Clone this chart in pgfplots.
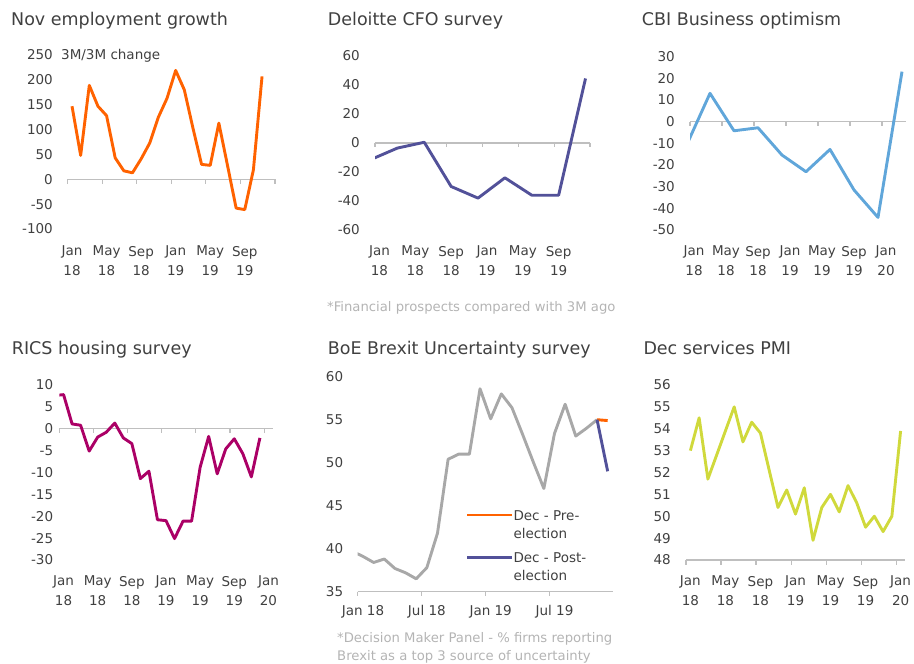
\documentclass[border=0pt]{standalone}
\usepackage{fontspec}
\setmainfont{DejaVu Sans}
\usepackage{pgfplots}
\pgfplotsset{compat=1.18}
\definecolor{txt}{HTML}{404040}
\definecolor{note}{HTML}{B4B4B4}
\definecolor{axgray}{HTML}{BFBFBF}
\definecolor{ingorange}{HTML}{FF6200}
\definecolor{ingpurple}{HTML}{525199}
\definecolor{ingblue}{HTML}{60A6DA}
\definecolor{ingmagenta}{HTML}{AB0066}
\definecolor{inggray}{HTML}{A8A8A8}
\definecolor{inglime}{HTML}{D0D93C}
\newcommand\titlefont{\fontsize{17.5}{21}\selectfont}
\newcommand\tickfont{\fontsize{13.5}{19.5}\selectfont}
\newcommand\notefont{\fontsize{13.2}{18.5}\selectfont}
\tikzset{axl/.style={axgray, line width=1.2pt}}
\pgfplotsset{
  panel/.style={scale only axis, anchor=south west, axis lines=left,
    axis line style={draw=none}, major tick length=0pt, tick style={draw=none},
    clip mode=individual,
    tick label style={font=\tickfont, text=txt},
    yticklabel style={anchor=east, inner sep=0pt},
    xticklabel style={anchor=north, inner sep=0pt, align=center}},
  dataline/.style={line width=2.9pt, line join=round, no markers}
}
\begin{document}
\begin{tikzpicture}
\useasboundingbox (0,0) rectangle (914pt,-664pt);

% ---------------- Panel 1: employment
\begin{axis}[panel, at={(67.7pt,-229pt)}, width=207.3pt, height=174pt,
  xmin=-0.5, xmax=23.5, ymin=-100, ymax=250,
  ytick={-100,-50,0,50,100,150,200,250},
  yticklabels={-100,-50,0,50,100,150,200,250},
  yticklabel style={xshift=-14.7pt},
  xtick={0,4,8,12,16,20},
  xticklabels={{Jan\\18},{May\\18},{Sep\\18},{Jan\\19},{May\\19},{Sep\\19}},
  xticklabel style={yshift=-16.8pt}]
\draw[axl] (axis cs:-0.5,0) -- (axis cs:23.5,0);
\pgfplotsinvokeforeach{-0.5,3.5,7.5,11.5,15.5,19.5,23.5}{\draw[axl] (axis cs:#1,0) -- ++(0pt,-4.5pt);}
\addplot[dataline, ingorange] coordinates {
(0,147) (1,48) (2,189) (3,147) (4,128) (5,43) (6,17) (7,13) (8,41) (9,73)
(10,125) (11,163) (12,219) (13,180) (14,103) (15,30) (16,28) (17,113) (18,28)
(19,-58) (20,-61) (21,19) (22,207)};
\end{axis}

% ---------------- Panel 2: Deloitte
\begin{axis}[panel, at={(375pt,-230pt)}, width=215pt, height=174pt,
  xmin=-0.5, xmax=23.5, ymin=-60, ymax=60,
  ytick={-60,-40,-20,0,20,40,60},
  yticklabels={-60,-40,-20,0,20,40,60},
  yticklabel style={xshift=-15pt},
  xtick={0,4,8,12,16,20},
  xticklabels={{Jan\\18},{May\\18},{Sep\\18},{Jan\\19},{May\\19},{Sep\\19}},
  xticklabel style={yshift=-15.8pt}]
\draw[axl] (axis cs:-0.5,0) -- (axis cs:23.5,0);
\pgfplotsinvokeforeach{-0.5,3.5,7.5,11.5,15.5,19.5,23.5}{\draw[axl] (axis cs:#1,0) -- ++(0pt,-4.5pt);}
\addplot[dataline, ingpurple] coordinates {
(-1,-11.5) (2,-3.5) (5,0.5) (8,-30) (11,-38) (14,-24) (17,-36) (20,-36) (23,44.5)};
\end{axis}

% ---------------- Panel 3: CBI
\begin{axis}[panel, at={(690pt,-230pt)}, width=216pt, height=173.3pt,
  xmin=-0.5, xmax=26.5, ymin=-50, ymax=30,
  ytick={-50,-40,-30,-20,-10,0,10,20,30},
  yticklabels={-50,-40,-30,-20,-10,0,10,20,30},
  yticklabel style={xshift=-15pt},
  xtick={0,4,8,12,16,20,24},
  xticklabels={{Jan\\18},{May\\18},{Sep\\18},{Jan\\19},{May\\19},{Sep\\19},{Jan\\20}},
  xticklabel style={yshift=-15.8pt}]
\draw[axl] (axis cs:-0.5,0) -- (axis cs:26.5,0);
\pgfplotsinvokeforeach{-0.5,3.5,7.5,11.5,15.5,19.5,23.5}{\draw[axl] (axis cs:#1,0) -- ++(0pt,-4.5pt);}
\addplot[dataline, ingblue] coordinates {
(-1,-11.4) (2,13.1) (5,-4.2) (8,-2.8) (11,-15.4) (14,-23.1) (17,-12.8) (20,-31.5) (23,-44.2) (26,23.1)};
\end{axis}

% ---------------- Panel 4: RICS
\begin{axis}[panel, at={(59.3pt,-560pt)}, width=213.4pt, height=175pt,
  xmin=-0.5, xmax=24.5, ymin=-30, ymax=10,
  ytick={-30,-25,-20,-15,-10,-5,0,5,10},
  yticklabels={-30,-25,-20,-15,-10,-5,0,5,10},
  yticklabel style={xshift=-6pt},
  xtick={0,4,8,12,16,20,24},
  xticklabels={{Jan\\18},{May\\18},{Sep\\18},{Jan\\19},{May\\19},{Sep\\19},{Jan\\20}},
  xticklabel style={yshift=-15.8pt}]
\draw[axl] (axis cs:-0.5,0) -- (axis cs:24.5,0);
\pgfplotsinvokeforeach{-0.5,3.5,7.5,11.5,15.5,19.5,23.5}{\draw[axl] (axis cs:#1,0) -- ++(0pt,-4.5pt);}
\addplot[dataline, ingmagenta] coordinates {
(-1,7.6) (0,7.8) (1,1.1) (2,0.8) (3,-5.1) (4,-1.9) (5,-0.8) (6,1.3) (7,-2.1) (8,-3.4)
(9,-11.4) (10,-9.7) (11,-20.8) (12,-21) (13,-25.1) (14,-21.1) (15,-21.1) (16,-8.8)
(17,-1.75) (18,-10.3) (19,-4.6) (20,-2.3) (21,-5.7) (22,-11) (23,-2.1)};
\end{axis}

% ---------------- Panel 5: BoE
\begin{axis}[panel, at={(357.7pt,-591.7pt)}, width=255.3pt, height=215pt,
  xmin=-0.5, xmax=23.5, ymin=35, ymax=60,
  ytick={35,40,45,50,55,60},
  yticklabels={35,40,45,50,55,60},
  yticklabel style={xshift=-14.4pt},
  xtick={0,6,12,18},
  xticklabels={{Jan 18},{Jul 18},{Jan 19},{Jul 19}},
  xticklabel style={yshift=-13.4pt}]
\draw[axl] (axis cs:-0.5,35) -- (axis cs:23.5,35);
\pgfplotsinvokeforeach{-0.5,5.5,11.5,17.5}{\draw[axl] (axis cs:#1,35) -- ++(0pt,-4.5pt);}
\addplot[dataline, inggray] coordinates {
(-1,39.7) (0,39.1) (1,38.4) (2,38.8) (3,37.7) (4,37.2) (5,36.5) (6,37.8) (7,41.8)
(8,50.4) (9,51.0) (10,51.0) (11,58.6) (12,55.1) (13,58.0) (14,56.4) (15,53.3)
(16,50.1) (17,47.0) (18,53.4) (19,56.8) (20,53.1) (21,54.0) (22,55.0)};
\addplot[dataline, ingorange] coordinates {(22,55.0) (23,54.9)};
\addplot[dataline, ingpurple] coordinates {(22,55.0) (23,49.0)};
\end{axis}

% ---------------- Panel 6: PMI
\begin{axis}[panel, at={(686pt,-560pt)}, width=219pt, height=175pt,
  xmin=-0.5, xmax=24.5, ymin=48, ymax=56,
  ytick={48,49,50,51,52,53,54,55,56},
  yticklabels={48,49,50,51,52,53,54,55,56},
  yticklabel style={xshift=-15pt},
  xtick={0,4,8,12,16,20,24},
  xticklabels={{Jan\\18},{May\\18},{Sep\\18},{Jan\\19},{May\\19},{Sep\\19},{Jan\\20}},
  xticklabel style={yshift=-15.8pt}]
\draw[axl] (axis cs:-0.5,48) -- (axis cs:24.5,48);
\pgfplotsinvokeforeach{-0.5,3.5,7.5,11.5,15.5,19.5,23.5}{\draw[axl] (axis cs:#1,48) -- ++(0pt,-4.5pt);}
\addplot[dataline, inglime] coordinates {
(0,53.0) (1,54.5) (2,51.7) (3,52.8) (4,53.9) (5,55.0) (6,53.4) (7,54.3) (8,53.8)
(9,52.1) (10,50.4) (11,51.2) (12,50.1) (13,51.3) (14,48.9) (15,50.4) (16,51.0)
(17,50.2) (18,51.4) (19,50.6) (20,49.5) (21,50.0) (22,49.3) (23,50.0) (24,53.9)};
\end{axis}

% ---------------- titles and notes
\begin{scope}[every node/.style={inner sep=0pt, text=txt}]
\node[anchor=base west, font=\titlefont] at (11pt,-25.5pt) {Nov employment growth};
\node[anchor=base west, font=\titlefont] at (327.7pt,-25.5pt) {Deloitte CFO survey};
\node[anchor=base west, font=\titlefont] at (641.7pt,-25.5pt) {CBI Business optimism};
\node[anchor=base west, font=\titlefont] at (11.7pt,-354.5pt) {RICS housing survey};
\node[anchor=base west, font=\titlefont] at (327.7pt,-354.5pt) {BoE Brexit Uncertainty survey};
\node[anchor=base west, font=\titlefont] at (643.3pt,-354.5pt) {Dec services PMI};
\node[anchor=base west, font=\tickfont] at (61pt,-59.5pt) {3M/3M change};
\node[anchor=base west, font=\notefont, text=note] at (327pt,-311pt) {*Financial prospects compared with 3M ago};
\node[anchor=base west, font=\notefont, text=note] at (337pt,-642pt) {*Decision Maker Panel - \% firms reporting};
\node[anchor=base west, font=\notefont, text=note] at (337pt,-660pt) {Brexit as a top 3 source of uncertainty};
% legend of the BoE panel
\draw[ingorange, line width=2.9pt] (467pt,-515pt) -- (512pt,-515pt);
\draw[ingpurple, line width=2.9pt] (467pt,-557.5pt) -- (512pt,-557.5pt);
\node[anchor=base west, font=\tickfont] at (513.3pt,-520pt) {Dec - Pre-};
\node[anchor=base west, font=\tickfont] at (513.3pt,-538.5pt) {election};
\node[anchor=base west, font=\tickfont] at (513.3pt,-562pt) {Dec - Post-};
\node[anchor=base west, font=\tickfont] at (513.3pt,-580.5pt) {election};
\end{scope}
\end{tikzpicture}
\end{document}
